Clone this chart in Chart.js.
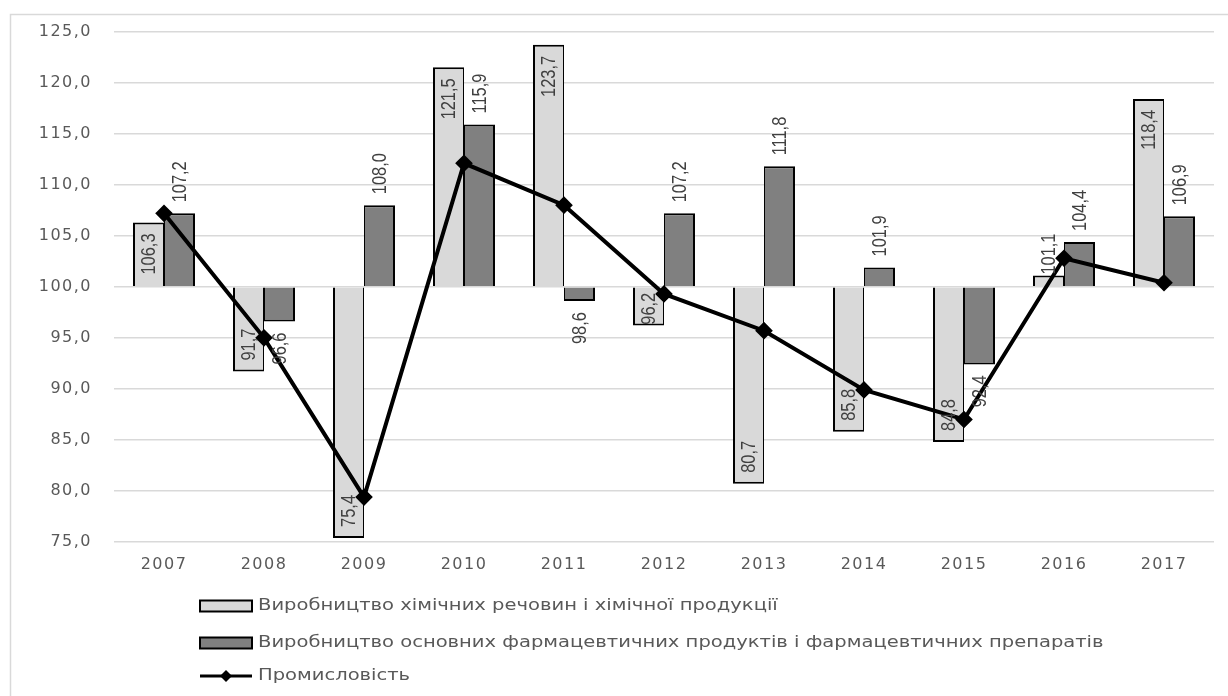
<!DOCTYPE html>
<html>
<head>
<meta charset="utf-8">
<script src="https://cdn.jsdelivr.net/npm/chart.js@4.4.1/dist/chart.umd.min.js"></script>
<style>
  html, body { margin: 0; padding: 0; background: #ffffff; }
  canvas { display: block; }
</style>
</head>
<body>
<canvas id="chart" width="1228" height="696"></canvas>
<script>
const years = ['2007', '2008', '2009', '2010', '2011', '2012', '2013', '2014', '2015', '2016', '2017'];
const chemicals = [106.3, 91.7, 75.4, 121.5, 123.7, 96.2, 80.7, 85.8, 84.8, 101.1, 118.4];
const pharma = [107.2, 96.6, 108.0, 115.9, 98.6, 107.2, 111.8, 101.9, 92.4, 104.4, 106.9];
const industry = [107.2, 95.0, 79.4, 112.1, 108.0, 99.3, 95.7, 89.9, 87.0, 102.8, 100.4];
const seriesNames = [
    'Виробництво хімічних речовин і хімічної продукції',
    'Виробництво основних фармацевтичних продуктів і фармацевтичних препаратів',
    'Промисловість'
];
const baseValue = 100;
const yMin = 75;
const yMax = 125;
const yStep = 5;

const fmt = v => v.toFixed(1).replace('.', ',');

// outer light frame + wider tick text
const framePlugin = {
    id: 'frame',
    beforeLayout(chart) {
        chart.ctx.letterSpacing = '1.5px';
    },
    beforeDraw(chart) {
        const ctx = chart.ctx;
        ctx.letterSpacing = '1.5px';
        ctx.save();
        ctx.strokeStyle = '#d9d9d9';
        ctx.lineWidth = 1.5;
        ctx.strokeRect(10.5, 14.5, 1400, 900);
        ctx.restore();
    }
};

// rotated value labels (chem: inside end, pharma: outside end)
const valueLabels = {
    id: 'valueLabels',
    afterDatasetsDraw(chart) {
        const ctx = chart.ctx;
        const yScale = chart.scales.y;
        const baseY = yScale.getPixelForValue(baseValue);
        const sx = 0.82;
        ctx.save();
        ctx.letterSpacing = '0px';
        ctx.font = '20px "Liberation Sans", Arial, sans-serif';
        ctx.fillStyle = '#404040';
        ctx.textAlign = 'center';
        ctx.textBaseline = 'middle';
        chart.data.datasets.forEach((ds, i) => {
            if (ds.type === 'line') return;
            const meta = chart.getDatasetMeta(i);
            meta.data.forEach((bar, j) => {
                const v = ds.data[j];
                const text = fmt(v);
                const w = ctx.measureText(text).width * sx;
                const up = v >= baseValue;
                const endY = bar.y;
                const barLen = Math.abs(baseY - endY);
                let cy;
                if (ds.labelPos === 'inside') {
                    if (barLen < w) {
                        cy = up ? endY - 1 - w / 2 : endY + 1 + w / 2;
                    } else {
                        let endDist = barLen - 11;
                        let startDist = endDist - w;
                        if (startDist < 6) startDist = 6;
                        const c = startDist + w / 2;
                        cy = up ? baseY - c : baseY + c;
                    }
                } else {
                    cy = up ? endY - 11 - w / 2 : endY + 11 + w / 2;
                }
                ctx.save();
                ctx.translate(bar.x + 1, cy);
                ctx.rotate(-Math.PI / 2);
                ctx.scale(sx, 1);
                ctx.fillText(text, 0, 0);
                ctx.restore();
            });
        });
        ctx.restore();
    }
};

// legend stacked in one column under the axis
const columnLegend = {
    id: 'columnLegend',
    afterDraw(chart) {
        const ctx = chart.ctx;
        const order = [1, 2, 0];
        const rows = [606, 643, 676];
        const boxX = 200, boxW = 52, boxH = 11, textX = 258;
        ctx.save();
        ctx.letterSpacing = '0px';
        ctx.font = '16px "DejaVu Sans", sans-serif';
        ctx.textBaseline = 'middle';
        ctx.textAlign = 'left';
        order.forEach((di, r) => {
            const ds = chart.data.datasets[di];
            const y = rows[r];
            if (ds.type === 'line') {
                ctx.strokeStyle = ds.borderColor;
                ctx.lineWidth = 3;
                ctx.beginPath();
                ctx.moveTo(boxX, y);
                ctx.lineTo(boxX + boxW, y);
                ctx.stroke();
                const cx = boxX + boxW / 2;
                ctx.fillStyle = ds.pointBackgroundColor;
                ctx.beginPath();
                ctx.moveTo(cx, y - 6);
                ctx.lineTo(cx + 6, y);
                ctx.lineTo(cx, y + 6);
                ctx.lineTo(cx - 6, y);
                ctx.closePath();
                ctx.fill();
            } else {
                ctx.fillStyle = ds.backgroundColor;
                ctx.fillRect(boxX, y - boxH / 2, boxW, boxH);
                ctx.strokeStyle = ds.borderColor;
                ctx.lineWidth = 2;
                ctx.strokeRect(boxX, y - boxH / 2, boxW, boxH);
            }
            ctx.save();
            ctx.translate(textX, y);
            ctx.scale(1.22, 1);
            ctx.fillStyle = '#595959';
            ctx.fillText(ds.label, 0, 0);
            ctx.restore();
        });
        ctx.restore();
    }
};

const ctx = document.getElementById('chart').getContext('2d');
const chart = new Chart(ctx, {
    data: {
        labels: years,
        datasets: [
            {
                type: 'line',
                label: seriesNames[2],
                data: industry,
                borderColor: '#000000',
                backgroundColor: '#000000',
                borderWidth: 4,
                pointStyle: 'rectRot',
                pointRadius: 6,
                pointBackgroundColor: '#000000',
                pointBorderColor: '#000000',
                tension: 0,
                order: 0
            },
            {
                type: 'bar',
                label: seriesNames[0],
                data: chemicals,
                base: baseValue,
                backgroundColor: '#d9d9d9',
                borderColor: '#000000',
                borderWidth: { left: 2, top: 2, right: 1, bottom: 2 },
                labelPos: 'inside',
                order: 1
            },
            {
                type: 'bar',
                label: seriesNames[1],
                data: pharma,
                base: baseValue,
                backgroundColor: '#808080',
                borderColor: '#000000',
                borderWidth: { left: 1, top: 2, right: 2, bottom: 2 },
                labelPos: 'outside',
                order: 1
            }
        ]
    },
    options: {
        responsive: false,
        animation: false,
        devicePixelRatio: 1,
        layout: { padding: { top: 31, right: 14, bottom: 114, left: 0 } },
        datasets: {
            bar: { categoryPercentage: 0.62, barPercentage: 1.0 }
        },
        plugins: {
            legend: { display: false },
            tooltip: { enabled: false }
        },
        scales: {
            x: {
                grid: { display: false, drawTicks: false },
                border: { display: false },
                ticks: {
                    color: '#595959',
                    font: { family: '"DejaVu Sans", sans-serif', size: 16 },
                    padding: 13,
                    maxRotation: 0
                },
                afterFit(scale) { scale.height = 40; }
            },
            y: {
                min: yMin,
                max: yMax,
                grid: { color: '#d9d9d9', lineWidth: 1.5, drawTicks: false },
                border: { display: false },
                ticks: {
                    stepSize: yStep,
                    color: '#595959',
                    font: { family: '"DejaVu Sans", sans-serif', size: 16 },
                    padding: 22,
                    callback: v => fmt(v)
                },
                afterFit(scale) { scale.width = 114; }
            }
        }
    },
    plugins: [framePlugin, valueLabels, columnLegend]
});
</script>
</body>
</html>
